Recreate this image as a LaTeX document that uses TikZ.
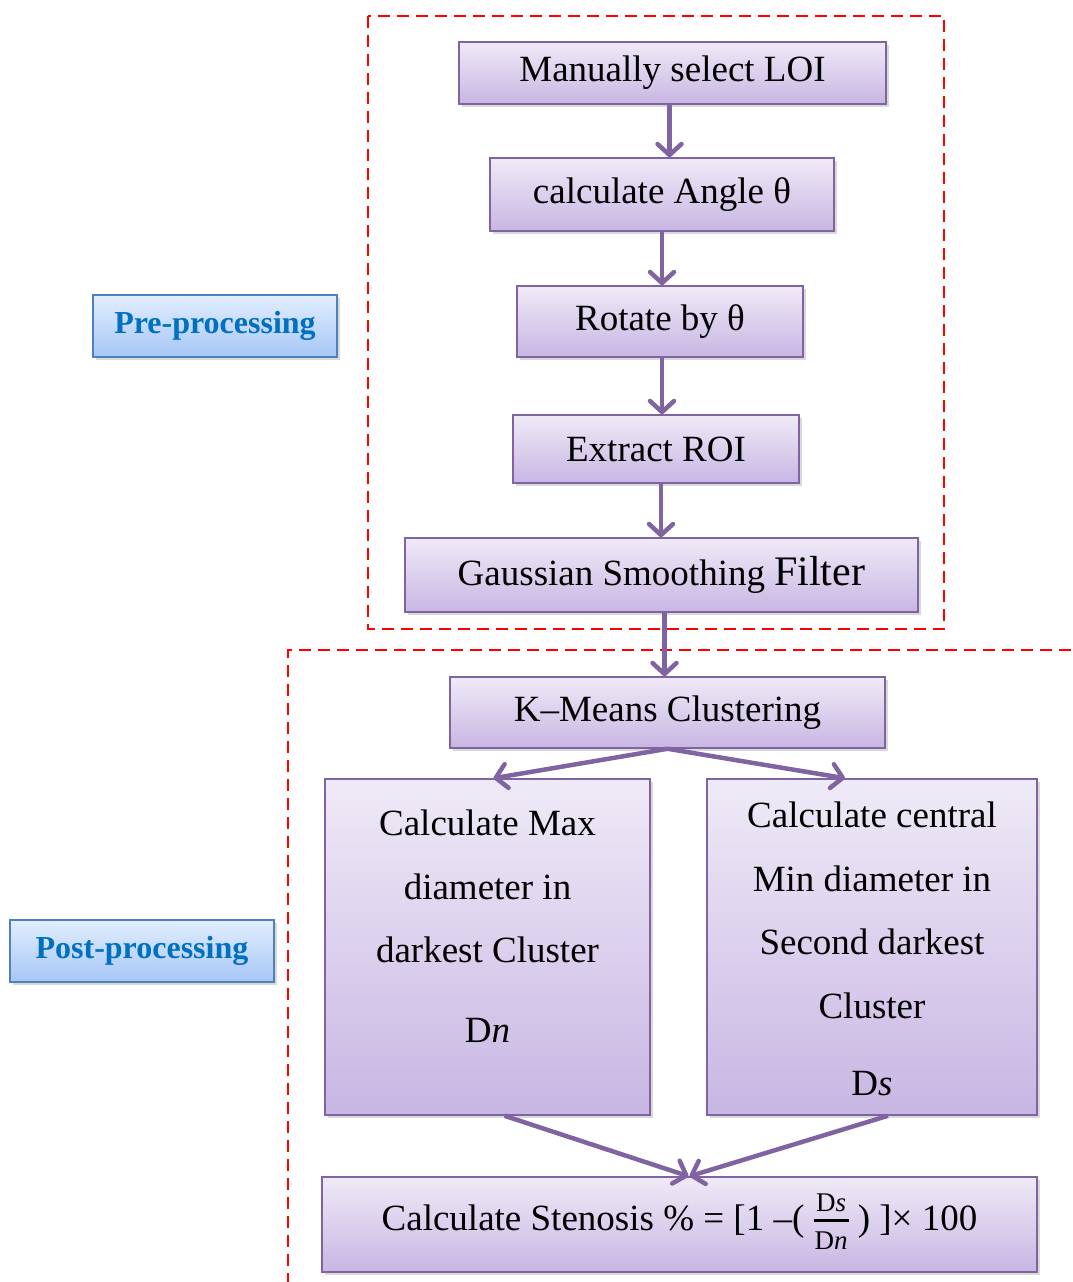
\documentclass[tikz,border=0pt]{standalone}
\usepackage{fontspec}
\setmainfont{Liberation Serif}
\usetikzlibrary{arrows.meta,shadows,calc}
\definecolor{pur}{HTML}{8064A2}
\definecolor{ptop}{HTML}{EFEAF7}
\definecolor{pbot}{HTML}{C8B6E3}
\definecolor{lborder}{HTML}{4F81BD}
\definecolor{ltop}{HTML}{E2EEFE}
\definecolor{lbot}{HTML}{A6C6F6}
\definecolor{tblue}{HTML}{0070C0}
\newcommand{\myfrac}[2]{\ensuremath{\vcenter{\hbox{\fontsize{27}{30}\selectfont\setlength{\arrayrulewidth}{2.4pt}\setlength{\tabcolsep}{1pt}\begin{tabular}{c}#1\rule[-8pt]{0pt}{8pt}\\[-1pt]\hline\rule{0pt}{28pt}#2\end{tabular}}}}}
\tikzset{
  proc/.style={draw=pur, line width=1.5pt, top color=ptop, bottom color=pbot, inner sep=0pt,
    drop shadow={shadow xshift=3pt, shadow yshift=-3pt, opacity=0.3},
    font=\fontsize{37}{44}\selectfont},
  txt/.style={inner sep=0pt, align=center, font=\fontsize{37}{63.5}\selectfont},
  lab/.style={draw=lborder, line width=1.5pt, top color=ltop, bottom color=lbot, inner sep=0pt,
    drop shadow={shadow xshift=3pt, shadow yshift=-3pt, opacity=0.3},
    text=tblue, font=\bfseries\fontsize{32}{38}\selectfont},
  region/.style={draw=red, line width=1.6pt, dash pattern=on 12pt off 7pt},
  flow/.style={draw=pur, line width=4.5pt, -{Straight Barb[length=11pt,width=24pt,round]}},
}
\begin{document}
\begin{tikzpicture}[x=1pt,y=-1pt]
\useasboundingbox (0,0) rectangle (1073,1282);
% dashed regions
\draw[region] (368,16) rectangle (944,629);
\draw[region] (1090,650) -- (288,650) -- (288,1300);
% labels
\node[lab, minimum width=244, minimum height=62] (pre) at (215,326) {Pre-processing};
\node[lab, minimum width=264, minimum height=62] (post) at (142,951) {Post-processing};
% process boxes
\node[proc, minimum width=427, minimum height=62] (b1) at (672.5,73) {Manually select LOI};
\node[proc, minimum width=344, minimum height=73] (b2) at (662,194.5) {calculate Angle θ};
\node[proc, minimum width=286, minimum height=71] (b3) at (660,321.5) {Rotate by θ};
\node[proc, minimum width=286, minimum height=68] (b4) at (656,449) {Extract ROI};
\node[proc, minimum width=513, minimum height=74] (b5) at (661.5,575) {Gaussian Smoothing {\fontsize{42}{48}\selectfont Filter}};
\node[proc, minimum width=435, minimum height=71] (b6) at (667.5,712.5) {K–Means Clustering};
\node[proc, minimum width=325, minimum height=336] (bl) at (487.5,947) {};
\node[proc, minimum width=330, minimum height=336] (br) at (872,947) {};
\node[txt] (tl) at (487.5,926) {Calculate Max\\diameter in\\darkest Cluster\\[16pt]D\textit{n}};
\node[txt] (tr) at (872,949) {Calculate central\\Min diameter in\\Second darkest\\Cluster\\[14pt]D\textit{s}};
\node[proc, minimum width=715, minimum height=95] (bf) at (679.5,1224.5) {Calculate Stenosis \% = [1 –( \myfrac{D\textit{s}}{D\textit{n}} ) ]× 100};
% connectors
\draw[flow] ([xshift=-3pt]b1.south) -- ([xshift=-3pt]b1.south |- b2.north);
\draw[flow] (b2.south) -- (b2.south |- b3.north);
\draw[flow] ([xshift=2pt]b3.south) -- ([xshift=2pt]b3.south |- b4.north);
\draw[flow] ([xshift=5pt]b4.south) -- ([xshift=5pt]b4.south |- b5.north);
\draw[flow] ([xshift=3pt]b5.south) -- ([xshift=3pt]b5.south |- b6.north);
\draw[flow] (b6.south) -- ([xshift=6pt]bl.north);
\draw[flow] (b6.south) -- ([xshift=-27pt]br.north);
\draw[flow] ([xshift=17pt]bl.south) -- ([xshift=9pt]bf.north);
\draw[flow] ([xshift=16pt]br.south) -- ([xshift=10pt]bf.north);
\end{tikzpicture}
\end{document}
